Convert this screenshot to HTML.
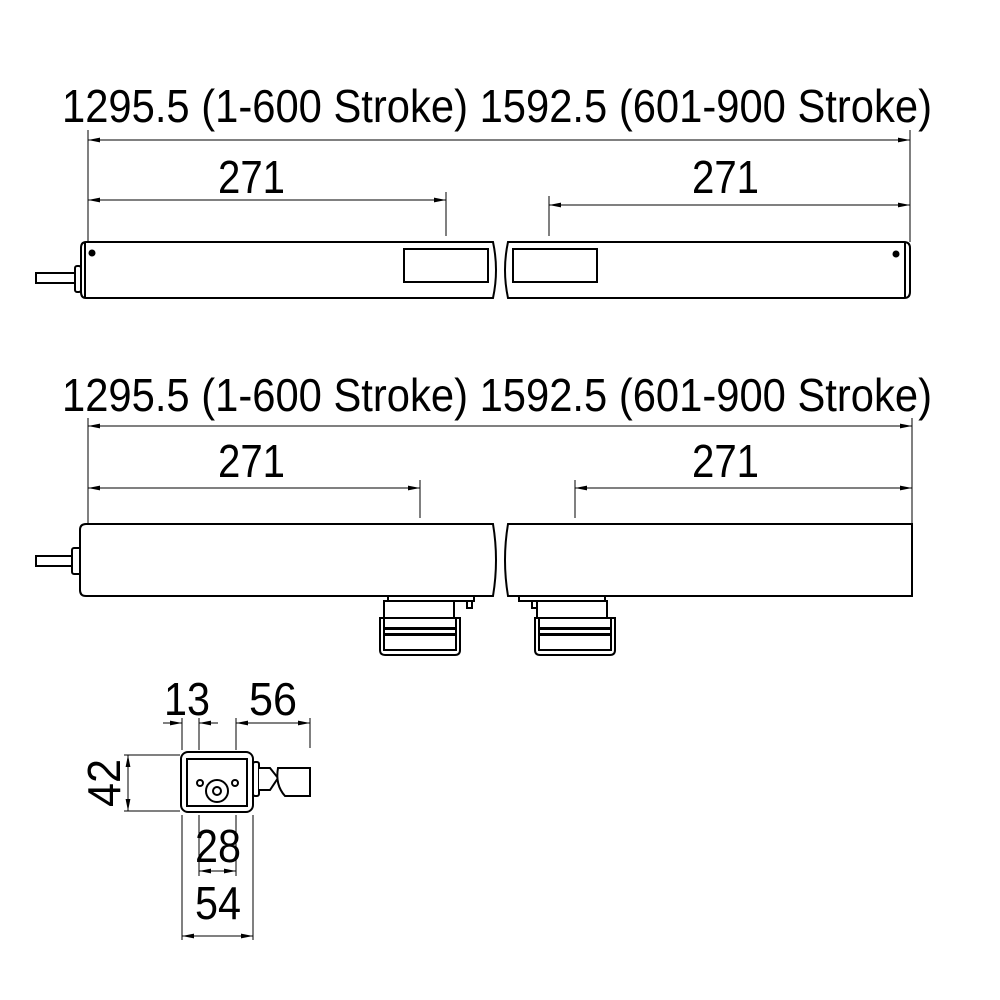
<!DOCTYPE html>
<html><head><meta charset="utf-8"><style>body{margin:0;background:#fff}svg{display:block}</style></head><body>
<svg width="1000" height="1000" viewBox="0 0 1000 1000" xmlns="http://www.w3.org/2000/svg" font-family="Liberation Sans, sans-serif">
<defs>
<marker id="a" viewBox="0 0 12 6" refX="12" refY="3" markerWidth="12" markerHeight="6" markerUnits="userSpaceOnUse" orient="auto-start-reverse"><path d="M0,0.6 L12,3 L0,5.4 Z" fill="#000"/></marker>
</defs>
<g fill="#000" font-size="46">
<text x="62" y="122" textLength="870" lengthAdjust="spacingAndGlyphs">1295.5 (1-600 Stroke) 1592.5 (601-900 Stroke)</text>
<text x="218" y="193" textLength="67" lengthAdjust="spacingAndGlyphs">271</text>
<text x="692" y="193" textLength="67" lengthAdjust="spacingAndGlyphs">271</text>
<text x="62" y="411" textLength="870" lengthAdjust="spacingAndGlyphs">1295.5 (1-600 Stroke) 1592.5 (601-900 Stroke)</text>
<text x="218" y="477" textLength="67" lengthAdjust="spacingAndGlyphs">271</text>
<text x="692" y="477" textLength="67" lengthAdjust="spacingAndGlyphs">271</text>
<text transform="translate(206,270) rotate(-90)" text-anchor="middle" textLength="48" lengthAdjust="spacingAndGlyphs">42</text>
<text transform="translate(206,560) rotate(-90)" text-anchor="middle" textLength="48" lengthAdjust="spacingAndGlyphs">54</text>
<text x="164" y="715" textLength="46" lengthAdjust="spacingAndGlyphs">13</text>
<text x="249" y="715" textLength="48" lengthAdjust="spacingAndGlyphs">56</text>
<text transform="translate(120,783) rotate(-90)" text-anchor="middle" textLength="48" lengthAdjust="spacingAndGlyphs">42</text>
<text x="195" y="862" textLength="46" lengthAdjust="spacingAndGlyphs">28</text>
<text x="195" y="919" textLength="46" lengthAdjust="spacingAndGlyphs">54</text>
</g>
<g stroke="#000" stroke-width="1" fill="none">
<line x1="88" y1="130" x2="88" y2="242"/><line x1="910" y1="130" x2="910" y2="242"/>
<line x1="88" y1="140" x2="910" y2="140" marker-start="url(#a)" marker-end="url(#a)"/>
<line x1="446" y1="192" x2="446" y2="236"/><line x1="549" y1="196" x2="549" y2="236"/>
<line x1="88" y1="200" x2="446" y2="200" marker-start="url(#a)" marker-end="url(#a)"/>
<line x1="549" y1="205" x2="910" y2="205" marker-start="url(#a)" marker-end="url(#a)"/>
<line x1="194" y1="243" x2="194" y2="297" marker-start="url(#a)" marker-end="url(#a)"/>
<line x1="88" y1="418" x2="88" y2="524"/><line x1="912" y1="418" x2="912" y2="524"/>
<line x1="88" y1="426" x2="912" y2="426" marker-start="url(#a)" marker-end="url(#a)"/>
<line x1="420" y1="480" x2="420" y2="518"/><line x1="575" y1="480" x2="575" y2="518"/>
<line x1="88" y1="488" x2="420" y2="488" marker-start="url(#a)" marker-end="url(#a)"/>
<line x1="575" y1="488" x2="912" y2="488" marker-start="url(#a)" marker-end="url(#a)"/>
<line x1="218" y1="525" x2="218" y2="595" marker-start="url(#a)" marker-end="url(#a)"/>
<line x1="182" y1="718" x2="182" y2="750"/><line x1="199" y1="718" x2="199" y2="750"/>
<line x1="163" y1="723" x2="182" y2="723" marker-end="url(#a)"/><line x1="218" y1="723" x2="199" y2="723" marker-end="url(#a)"/>
<line x1="236" y1="718" x2="236" y2="750"/><line x1="310" y1="718" x2="310" y2="748"/>
<line x1="236" y1="723" x2="310" y2="723" marker-start="url(#a)" marker-end="url(#a)"/>
<line x1="124" y1="755" x2="180" y2="755"/><line x1="124" y1="811" x2="180" y2="811"/>
<line x1="128" y1="755" x2="128" y2="811" marker-start="url(#a)" marker-end="url(#a)"/>
<line x1="182" y1="815" x2="182" y2="940"/><line x1="253" y1="815" x2="253" y2="940"/>
<line x1="199" y1="815" x2="199" y2="876"/><line x1="236" y1="815" x2="236" y2="876"/>
<line x1="199" y1="871" x2="236" y2="871" marker-start="url(#a)" marker-end="url(#a)"/>
<line x1="182" y1="936" x2="253" y2="936" marker-start="url(#a)" marker-end="url(#a)"/>
</g>
<g stroke="#000" stroke-width="2" fill="#fff">
<rect x="36" y="273" width="40" height="10"/>
<rect x="75" y="266" width="6" height="26" rx="2"/>
<path d="M86,242 L493,242 Q499,270 493,298 L86,298 Q81,298 81,292 L81,248 Q81,242 86,242 Z"/>
<line x1="85" y1="242" x2="85" y2="298"/>
<path d="M508,242 L904,242 Q910,242 910,248 L910,292 Q910,298 904,298 L508,298 Q502,270 508,242 Z"/>
<line x1="905" y1="242" x2="905" y2="298"/>
<rect x="404" y="249" width="84" height="33"/>
<rect x="513" y="249" width="84" height="33"/>
<rect x="36" y="556" width="40" height="10"/>
<rect x="72" y="548" width="9" height="26" rx="2"/>
<path d="M86,524 L493,524 Q499,560 493,596 L86,596 Q80,596 80,590 L80,530 Q80,524 86,524 Z"/>
<path d="M508,524 L912,524 L912,596 L508,596 Q502,560 508,524 Z"/>
<rect x="388" y="596" width="86" height="5"/><rect x="467" y="601" width="5" height="7"/>
<rect x="384" y="601" width="70" height="20"/>
<path d="M380,618 L460,618 L460,650 Q460,655 455,655 L385,655 Q380,655 380,650 Z"/>
<rect x="384" y="618" width="72" height="32"/>
<rect x="519" y="596" width="86" height="5"/><rect x="532" y="601" width="5" height="7"/>
<rect x="537" y="601" width="70" height="20"/>
<path d="M535,618 L615,618 L615,650 Q615,655 610,655 L540,655 Q535,655 535,650 Z"/>
<rect x="539" y="618" width="72" height="32"/>
<rect x="253" y="762" width="6" height="34" rx="2"/>
<path d="M259,768 L270,768 L278,778 L270,790 L259,790"/>
<path d="M278,768 L310,768 L310,796 L285,796 Q275,785 278,768 Z"/>
<rect x="181" y="752" width="72" height="60" rx="7"/>
<rect x="187" y="759" width="60" height="47"/>
<circle cx="217" cy="791" r="11"/>
<circle cx="217" cy="791" r="4"/>
<circle cx="200" cy="783" r="3"/>
<circle cx="235" cy="783" r="3"/>
</g>
<g fill="#000">
<circle cx="92" cy="253" r="3.5"/><circle cx="896" cy="254" r="3.5"/>
<rect x="384" y="627" width="72" height="3"/><rect x="384" y="633" width="72" height="3"/>
<rect x="539" y="627" width="72" height="3"/><rect x="539" y="633" width="72" height="3"/>
</g>
</svg>
</body></html>
